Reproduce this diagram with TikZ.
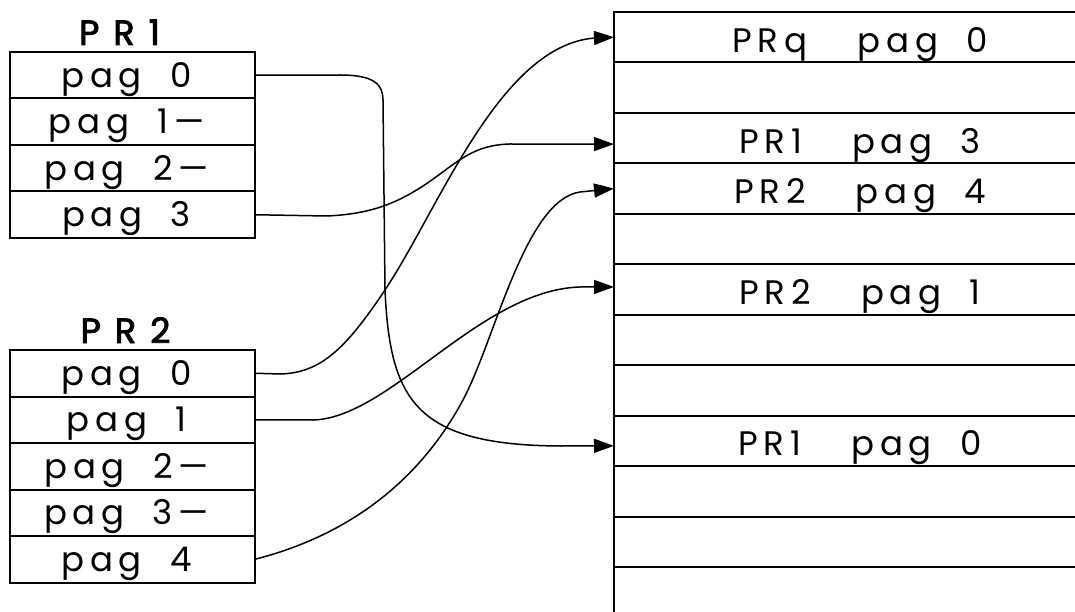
\documentclass[tikz,border=0pt]{standalone}
\usepackage{fontspec}
\newfontfamily\cadfont{Poppins}[LetterSpace=17,WordSpace=1.9]
\newfontfamily\cadtitle{Poppins}[LetterSpace=40,FakeBold=2.5]
\usetikzlibrary{positioning,arrows.meta}

\tikzset{
    page node/.style={rectangle,draw,line width=2pt,minimum width=245pt,minimum height=46.5pt,
        inner sep=0,outer sep=0,text height=24pt,text depth=0pt,font=\fontsize{34}{38}\selectfont\cadfont,
        execute at begin node=\kern-12pt},
    title node/.style={inner sep=0,outer sep=0,font=\fontsize{35}{38}\selectfont\cadtitle},
    mem node/.style={rectangle,minimum width=492pt,minimum height=50.45pt,
        inner sep=0,outer sep=0,text height=30pt,text depth=0pt,font=\fontsize{34}{38}\selectfont\cadfont},
    frame/.style={line width=2pt},
    link/.style={line width=1.5pt,-{Triangle[length=20pt,width=14pt]}}
    }

\begin{document}
\begin{tikzpicture}[x=1pt,y=-1pt]
                \useasboundingbox (0,0) rectangle (1075,612);
                % first process
                \node(p1r0)[page node] at (132.5,75.25){pag 0};
                \node(p1r1)[page node, below=0pt of p1r0]{pag 1—};
                \node(p1r2)[page node, below=0pt of p1r1]{pag 2—};
                \node(p1r3)[page node, below=0pt of p1r2]{pag 3};
                \node(pr1)[title node, above=7pt of p1r0, xshift=-13pt]{PR1};
                % second process
                \node(p2r0)[page node] at (132.5,373.25){pag 0};
                \node(p2r1)[page node, below=0pt of p2r0]{pag 1};
                \node(p2r2)[page node, below=0pt of p2r1]{pag 2—};
                \node(p2r3)[page node, below=0pt of p2r2]{pag 3—};
                \node(p2r4)[page node, below=0pt of p2r3]{pag 4};
                \node(pr2)[title node, above=7pt of p2r0, xshift=-7pt]{PR2};
                % physical memory
                \foreach \k/\txt in {0/{PRq\hspace{22pt} pag 0},1/{},2/{PR1\hspace{22pt} pag 3},3/{PR2\hspace{22pt} pag 4},
                    4/{},5/{PR2\hspace{22pt} pag 1},6/{},7/{},8/{PR1\hspace{22pt} pag 0},9/{},10/{},11/{}}
                    \node(m\k)[mem node] at (860,{37.2+50.45*\k}){\txt};
                \foreach \k in {0,...,11}
                    \draw[frame] (614,{12+50.45*\k}) -- (1075,{12+50.45*\k});
                \draw[frame] (614,11) -- (614,612);
                % page table links
                \draw[link] (p1r0.east) -- (340,75) .. controls (375,75) and (383,85) .. (383,100)
                    -- (385,290) .. controls (390,400) and (415,445) .. (560,446) -- ([yshift=-5pt]m8.west);
                \draw[link] (p1r3.east) -- (327,216) .. controls (370,214) and (395,204) .. (423,186)
                    .. controls (455,165) and (470,145) .. (510,144) -- ([yshift=-6pt]m2.west);
                \draw[link] (p2r0.east) -- (280,374) .. controls (320,373) and (345,350) .. (385,290)
                    .. controls (440,207) and (500,45) .. (595,38) -- (m0.west);
                \draw[link] (p2r1.east) -- (313,420) .. controls (390,418) and (480,290) .. (580,287)
                    -- ([yshift=2.5pt]m5.west);
                \draw[link] (p2r4.east) .. controls (350,535) and (420,480) .. (463,400)
                    .. controls (495,340) and (525,200) .. (580,192) -- (m3.west);
            \end{tikzpicture}
\end{document}
